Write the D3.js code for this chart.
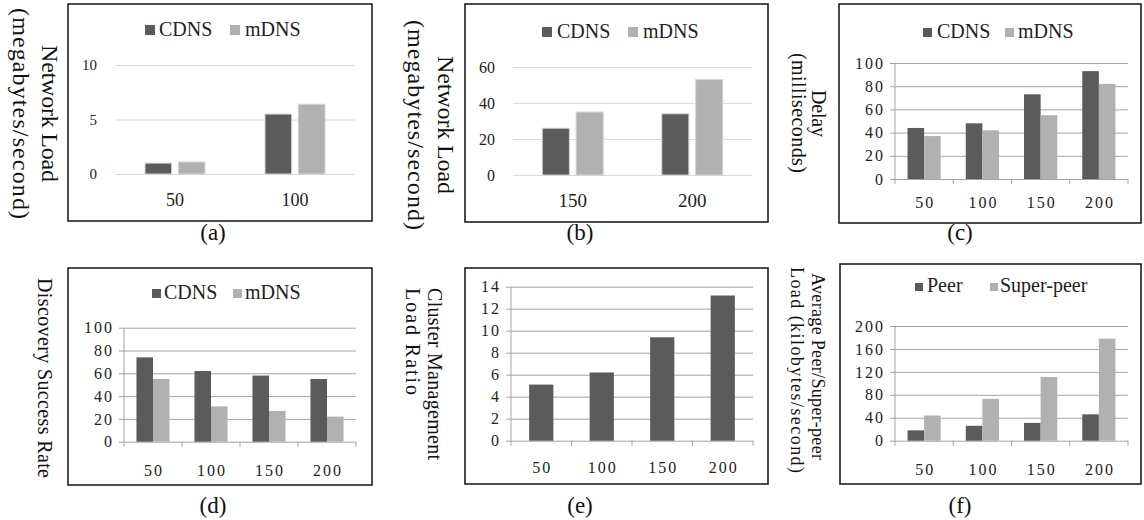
<!DOCTYPE html>
<html>
<head>
<meta charset="utf-8">
<script src="https://d3js.org/d3.v7.min.js"></script>
<style>
  body { margin: 0; background: #fff; }
  svg text { font-family: "Liberation Serif", "Times New Roman", serif; }
</style>
</head>
<body>
<div id="my_dataviz"></div>
<script>

// ---- values ----
var nodesSmall = ["50", "100"];
var nodesLarge = ["150", "200"];
var nodesAll = ["50", "100", "150", "200"];

var dnsNames = ["CDNS", "mDNS"];
var peerNames = ["Peer", "Super-peer"];

var loadSmallCDNS = [1.0, 5.5];
var loadSmallMDNS = [1.1, 6.4];
var loadLargeCDNS = [26, 34];
var loadLargeMDNS = [35, 53];
var delayCDNS = [44, 48, 73, 93];
var delayMDNS = [37, 42, 55, 82];
var successCDNS = [74, 62, 58, 55];
var successMDNS = [55, 31, 27, 22];
var clusterRatio = [5.1, 6.2, 9.4, 13.2];
var peerLoad = [18, 26, 31, 46];
var superPeerLoad = [44, 73, 111, 178];

var ticksSmall = [0, 5, 10];
var ticksLarge = [0, 20, 40, 60];
var ticksPct = [0, 20, 40, 60, 80, 100];
var ticksRatio = [0, 2, 4, 6, 8, 10, 12, 14];
var ticksPeer = [0, 40, 80, 120, 160, 200];

var barColors = ["#5b5b5b", "#b1b1b1"];
var serif = '"Liberation Serif", "Times New Roman", serif';

var svg = d3.select("#my_dataviz")
  .append("svg")
  .attr("width", 1144)
  .attr("height", 520);

// layout of the six sub-figures
var panels = [
  { box: [68, 4, 372, 221], plot: [115, 355, 174, 65], cats: nodesSmall,
    series: [loadSmallCDNS, loadSmallMDNS], names: dnsNames, ticks: ticksSmall,
    flat: true, groupFrac: 0.5, gap: 0.2, tickPad: 18, tickSize: 15, catSize: 18, catBase: 206,
    titles: [{ t: "Network Load", cx: 50, y0: 45, y1: 182 }, { t: "(megabytes/second)", cx: 21, y0: 8, y1: 219 }],
    titleSize: 24, legend: { x: [145, 230], y: 25, s: 10, gap: [4, 5] }, label: { t: "(a)", x: 213, y: 240 } },
  { box: [465, 4, 768, 222], plot: [513, 752, 175, 67], cats: nodesLarge,
    series: [loadLargeCDNS, loadLargeMDNS], names: dnsNames, ticks: ticksLarge,
    flat: true, groupFrac: 0.51, gap: 0.2, tickPad: 18, tickSize: 16, catSize: 19, catBase: 207,
    titles: [{ t: "Network Load", cx: 446, y0: 56, y1: 194 }, { t: "(megabytes/second)", cx: 416, y0: 20, y1: 230 }],
    titleSize: 24, legend: { x: [542, 628], y: 27, s: 10, gap: [5, 5] }, label: { t: "(b)", x: 580, y: 240 } },
  { box: [839, 4, 1141, 223], plot: [895, 1128, 179, 63], cats: nodesAll,
    series: [delayCDNS, delayMDNS], names: dnsNames, ticks: ticksPct,
    flat: false, groupFrac: 0.57, gap: 0, tickPad: 10, tickSize: 16, catSize: 16, catBase: 208,
    titles: [{ t: "Delay", cx: 819, y0: 90, y1: 137 }, { t: "(milliseconds)", cx: 799, y0: 53, y1: 173 }],
    titleSize: 20, legend: { x: [923, 1005], y: 28, s: 9, gap: [5, 4] }, label: { t: "(c)", x: 960, y: 240 } },
  { box: [68, 268, 372, 485], plot: [124, 356, 441.7, 327.7], cats: nodesAll,
    series: [successCDNS, successMDNS], names: dnsNames, ticks: ticksPct,
    flat: false, groupFrac: 0.57, gap: 0, tickPad: 10, tickSize: 16, catSize: 16, catBase: 476,
    titles: [{ t: "Discovery Success Rate", cx: 45, y0: 278, y1: 478 }],
    titleSize: 20, legend: { x: [152, 233], y: 289, s: 9, gap: [3, 3] }, label: { t: "(d)", x: 213, y: 513 } },
  { box: [465, 268, 768, 484], plot: [511, 753, 440.7, 286.7], cats: nodesAll,
    series: [clusterRatio], names: null, ticks: ticksRatio,
    flat: false, groupFrac: 0.4, gap: 0, tickPad: 10, tickSize: 16, catSize: 16, catBase: 473,
    titles: [{ t: "Cluster Management", cx: 435, y0: 288, y1: 460 }, { t: "Load Ratio", cx: 413, y0: 288, y1: 395 }],
    titleSize: 20, legend: null, label: { t: "(e)", x: 580, y: 513 } },
  { box: [840, 264, 1141, 484], plot: [895, 1128, 440.7, 326], cats: nodesAll,
    series: [peerLoad, superPeerLoad], names: peerNames, ticks: ticksPeer,
    flat: false, groupFrac: 0.57, gap: 0, tickPad: 10, tickSize: 16, catSize: 16, catBase: 475,
    titles: [{ t: "Average Peer/Super-peer", cx: 818, y0: 273, y1: 460 }, { t: "Load (kilobytes/second)", cx: 797, y0: 267, y1: 473 }],
    titleSize: 18, legend: { x: [915, 990], y: 283, s: 8, gap: [4, 2] }, label: { t: "(f)", x: 960, y: 513 } }
];

panels.forEach(drawPanel);

function drawPanel(p) {
  var g = svg.append("g");
  var w = p.plot[1] - p.plot[0];
  var spacing = p.flat ? 0 : 2;

  // frame round the chart
  g.append("rect")
    .attr("x", p.box[0]).attr("y", p.box[1])
    .attr("width", p.box[2] - p.box[0]).attr("height", p.box[3] - p.box[1])
    .attr("fill", "none").attr("stroke", "#111").attr("stroke-width", 1.5);

  // scales
  var x = d3.scaleBand().domain(p.cats).range([p.plot[0], p.plot[1]]);
  var y = d3.scaleLinear().domain([0, d3.max(p.ticks)]).range([p.plot[2], p.plot[3]]);
  var groupW = x.bandwidth() * p.groupFrac;
  var sub = d3.scaleBand().domain(d3.range(p.series.length)).range([0, groupW]).paddingInner(p.gap);
  var offset = (x.bandwidth() - groupW) / 2;

  // y axis with gridlines
  var yAxis = g.append("g")
    .attr("transform", "translate(" + p.plot[0] + ",0)")
    .call(d3.axisLeft(y).tickValues(p.ticks).tickSize(-w).tickPadding(p.tickPad));
  yAxis.select(".domain").remove();
  yAxis.attr("font-family", serif).attr("font-size", null);
  yAxis.selectAll(".tick line")
    .attr("x1", p.flat ? 0 : -5)
    .attr("stroke", p.flat ? "#d9d9d9" : "#a3a3a3");
  yAxis.selectAll(".tick text")
    .style("font-size", p.tickSize + "px")
    .style("letter-spacing", spacing + "px")
    .attr("fill", "#222");

  if (!p.flat) {
    // vertical axis line and category ticks
    g.append("line")
      .attr("x1", p.plot[0]).attr("x2", p.plot[0])
      .attr("y1", y(0)).attr("y2", y(d3.max(p.ticks)))
      .attr("stroke", "#a3a3a3");
    var edges = p.cats.map(function(c) { return x(c); }).concat([p.plot[1]]);
    g.selectAll(".xtick")
      .data(edges)
      .enter()
      .append("line")
      .attr("x1", function(d) { return d; }).attr("x2", function(d) { return d; })
      .attr("y1", y(0)).attr("y2", y(0) + 5)
      .attr("stroke", "#a3a3a3");
  }

  // category labels
  var xAxis = g.append("g")
    .attr("transform", "translate(0," + y(0) + ")")
    .call(d3.axisBottom(x).tickSize(0));
  xAxis.select(".domain").remove();
  xAxis.attr("font-family", serif).attr("font-size", null);
  xAxis.selectAll(".tick text")
    .attr("y", p.catBase - y(0)).attr("dy", null)
    .attr("dx", spacing / 2)
    .style("font-size", p.catSize + "px")
    .style("letter-spacing", spacing + "px")
    .attr("fill", "#222");

  // bars
  p.series.forEach(function(vals, si) {
    g.selectAll(".bar" + si)
      .data(vals)
      .enter()
      .append("rect")
      .attr("x", function(d, i) { return x(p.cats[i]) + offset + sub(si); })
      .attr("y", function(d) { return y(d); })
      .attr("width", sub.bandwidth())
      .attr("height", function(d) { return y(0) - y(d); })
      .attr("fill", barColors[si])
      .attr("stroke", p.flat ? "#d4d4d4" : "none")
      .attr("stroke-width", 1);
  });

  // legend
  if (p.legend) {
    p.names.forEach(function(name, i) {
      g.append("rect")
        .attr("x", p.legend.x[i]).attr("y", p.legend.y)
        .attr("width", p.legend.s).attr("height", p.legend.s)
        .attr("fill", barColors[i]);
      g.append("text")
        .attr("x", p.legend.x[i] + p.legend.s + p.legend.gap[i])
        .attr("y", p.legend.y + p.legend.s + 1)
        .style("font-size", "20px")
        .attr("fill", "#222")
        .text(name);
    });
  }

  // rotated axis titles, reading downwards
  p.titles.forEach(function(t) {
    g.append("text")
      .attr("transform", "translate(" + t.cx + "," + ((t.y0 + t.y1) / 2) + ") rotate(90)")
      .attr("text-anchor", "middle")
      .attr("dy", "0.35em")
      .attr("textLength", t.y1 - t.y0)
      .attr("lengthAdjust", "spacing")
      .style("font-size", p.titleSize + "px")
      .attr("fill", "#111")
      .text(t.t);
  });

  // sub-figure label
  g.append("text")
    .attr("x", p.label.x).attr("y", p.label.y)
    .attr("text-anchor", "middle")
    .style("font-size", "23px")
    .attr("fill", "#111")
    .text(p.label.t);
}

</script>
</body>
</html>
